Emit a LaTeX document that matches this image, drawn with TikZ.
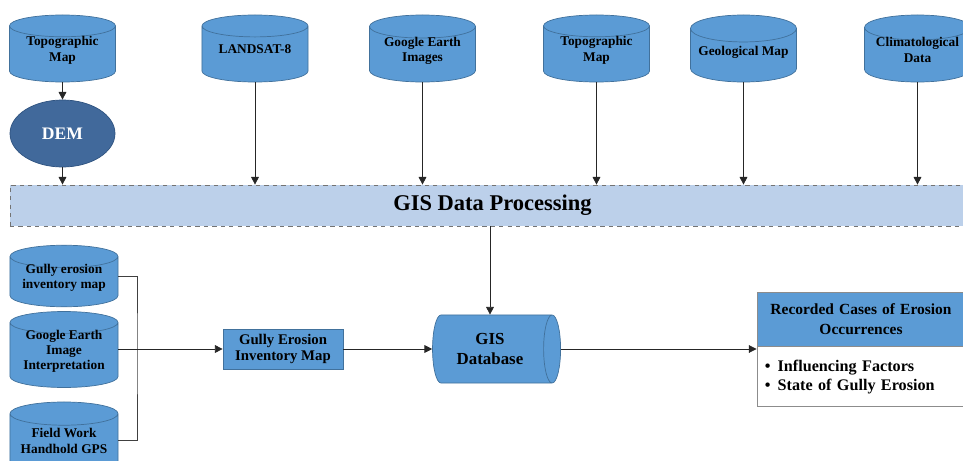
\documentclass[tikz,border=0pt]{standalone}
\usepackage{fontspec}
\setmainfont{Liberation Serif}
\usetikzlibrary{shapes.geometric,arrows.meta}
\definecolor{cylblue}{HTML}{5B9BD5}
\definecolor{cylline}{HTML}{41719C}
\definecolor{demblue}{HTML}{41699B}
\definecolor{demline}{HTML}{2F5380}
\definecolor{barfill}{HTML}{BCD0EA}
\definecolor{boxline}{HTML}{8C8C8C}
\begin{document}
\begin{tikzpicture}[x=0.025cm, y=-0.025cm,
    cylstyle/.style={cylinder, draw=cylline, fill=cylblue, line width=0.5pt, align=center, inner sep=1pt, font=\bfseries\fontsize{9.5}{10.8}\selectfont},
    cyltext/.style={text height=#1, text depth=5.6pt},
    topcyl/.style={cylstyle, shape border rotate=90, aspect=0.29, minimum width=2.65cm, minimum height=1.675cm, anchor=shape center},
    leftcyl/.style={cylstyle, shape border rotate=90, aspect=0.26, minimum width=2.7cm, anchor=shape center},
    arrowstyle/.style={-{Triangle[width=5.5pt,length=5.5pt]}, line width=0.6pt, draw=black!85},
    linkstyle/.style={line width=0.6pt, draw=black!75}
]
    \useasboundingbox (0,0) rectangle (963,461);
    \clip (0,0) rectangle (963,461);

    % data sources
    \node[topcyl, cyltext=13.8pt] (topo) at (62.5,48.5) {Topographic\\Map};
    \node[topcyl, cyltext=3pt] (landsat) at (255,48.5) {LANDSAT-8};
    \node[topcyl, cyltext=13.8pt] (google) at (422.5,48.5) {Google Earth\\Images};
    \node[topcyl, cyltext=13.8pt] (topotwo) at (596.5,48.5) {Topographic\\Map};
    \node[topcyl, cyltext=3pt] (geo) at (743.5,48.5) {Geological Map};
    \node[topcyl, cyltext=13.8pt] (climate) at (917.5,48.5) {Climatological\\Data};

    \node[ellipse, draw=demline, fill=demblue, line width=0.5pt, minimum width=2.625cm, minimum height=1.675cm, text=white, font=\bfseries\fontsize{12.5}{14}\selectfont] (dem) at (62.5,133.5) {DEM};

    \node[rectangle, draw=black!55, dashed, fill=barfill, line width=0.5pt, minimum width=24.125cm, minimum height=1.025cm, font=\bfseries\fontsize{16}{18}\selectfont] (processing) at (492.5,205.5) {GIS Data Processing};

    % inventory inputs
    \node[leftcyl, cyltext=13.8pt, minimum height=1.33cm] (gullyinv) at (64,276) {Gully erosion\\inventory map};
    \node[leftcyl, cyltext=24.6pt, minimum height=1.875cm] (googleint) at (64,349.5) {Google Earth\\Image\\Interpretation};
    \node[leftcyl, cyltext=13.8pt, minimum height=1.9cm] (fieldwork) at (64,440) {Field Work\\Handhold GPS};
    \coordinate (joint) at (137,349);

    \node[rectangle, draw=cylline, fill=cylblue, line width=0.5pt, minimum width=3cm, minimum height=1cm, align=center, font=\bfseries\fontsize{10.5}{12}\selectfont] (inventory) at (283,349) {Gully Erosion\\Inventory Map};

    \node[cylinder, draw=cylline, fill=cylblue, line width=0.5pt, aspect=0.42, minimum width=1.7cm, minimum height=3.2cm, align=center, font=\bfseries\fontsize{12}{14}\selectfont] (database) at (490,349) {GIS\\Database};

    \node[rectangle, draw=boxline, fill=cylblue, line width=0.6pt, minimum width=5.2cm, minimum height=1.35cm, text width=5cm, inner xsep=0.1cm, align=center, font=\bfseries\fontsize{11}{14}\selectfont] (recorded) at (861,319) {Recorded Cases of Erosion\\Occurrences};
    \node[rectangle, draw=boxline, fill=white, line width=0.6pt, minimum width=5.2cm, minimum height=1.5cm, text width=4.8cm, inner xsep=0.2cm, align=left, anchor=north, font=\bfseries\fontsize{11.5}{13.5}\selectfont] (factors) at (recorded.south) {\textbullet\hspace{5pt}Influencing Factors\\\textbullet\hspace{5pt}State of Gully Erosion};

    % connectors
    \draw[arrowstyle] (topo.south) -- (dem.north);
    \draw[arrowstyle] (dem.south) -- (dem.south |- processing.north);
    \foreach \src in {landsat, google, topotwo, geo, climate}
        \draw[arrowstyle] (\src.south) -- (\src.south |- processing.north);
    \draw[arrowstyle] (database.north |- processing.south) -- (database.north);

    \draw[linkstyle] (gullyinv.east |- gullyinv.shape center) -| (joint) |- (fieldwork.east |- fieldwork.shape center);
    \draw[arrowstyle] (googleint.east |- inventory.west) -- (inventory.west);
    \draw[arrowstyle] (inventory.east) -- (database.west);
    \draw[arrowstyle] (database.east) -- (database.east -| recorded.west);
\end{tikzpicture}
\end{document}
